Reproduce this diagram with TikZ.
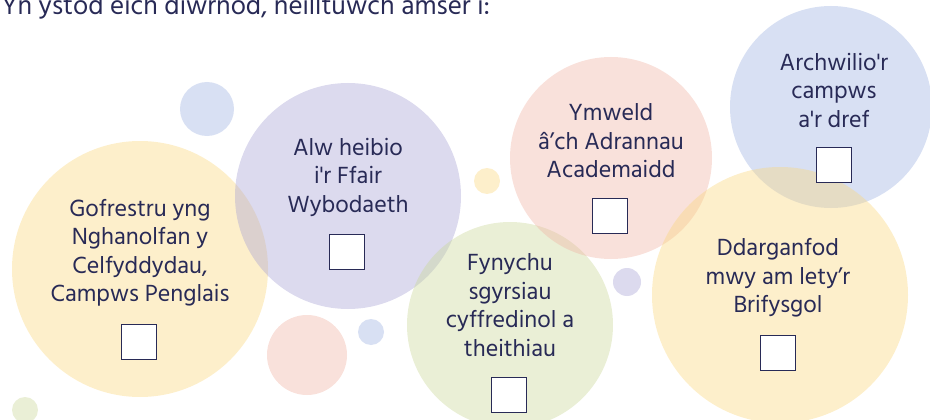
\documentclass[tikz,border=0pt]{standalone}
\usepackage{fontspec}
\setmainfont{Hind Madurai}
\usetikzlibrary{positioning}
\definecolor{ink}{RGB}{40,42,86}
\definecolor{sunyellow}{RGB}{250,215,125}
\definecolor{lilac}{RGB}{167,162,212}
\definecolor{sage}{RGB}{202,215,152}
\definecolor{blush}{RGB}{240,180,165}
\definecolor{skyblue}{RGB}{157,177,225}

\tikzset{
    bubble/.style={fill=#1, fill opacity=0.4},
    label text/.style={font=\fontsize{24}{28.5}\selectfont, text=ink, align=center},
    tickbox/.style={draw=ink, line width=1.7pt, fill=white, minimum size=35pt, inner sep=0pt}
}

\begin{document}
\begin{tikzpicture}[x=1pt, y=-1pt]
    \useasboundingbox (0,0) rectangle (930,420);

    % Small background bubbles
    \fill[bubble=skyblue] (207,109) circle[radius=27pt];
    \fill[bubble=sunyellow] (487,181) circle[radius=13pt];
    \fill[bubble=lilac] (627,282) circle[radius=14pt];
    \fill[bubble=blush] (307,355) circle[radius=40pt];
    \fill[bubble=skyblue] (371,332) circle[radius=13pt];
    \fill[bubble=sage] (25,410) circle[radius=13pt];

    % Large bubbles
    \fill[bubble=sunyellow] (140,269) circle[radius=128pt];
    \fill[bubble=lilac] (348,196) circle[radius=113pt];
    \fill[bubble=sage] (510,325) circle[radius=103pt];
    \fill[bubble=blush] (611,158) circle[radius=101pt];
    \fill[bubble=skyblue] (831,107) circle[radius=101pt];
    \fill[bubble=sunyellow] (780,295) circle[radius=128pt];

    % Title
    \node[font=\fontsize{27}{30}\selectfont, text=ink, anchor=base west] (title) at (-2,15)
        {Yn ystod eich diwrnod, neilltuwch amser i:};

    % Activities
    \node[label text] (gofrestru) at (140,253)
        {Gofrestru yng\\Nghanolfan y\\Celfyddydau,\\Campws Penglais};
    \node[tickbox] (gofrestrubox) at (139,342) {};

    \node[label text] (ffair) at (348,177)
        {Alw heibio\\i\textquotesingle r Ffair\\Wybodaeth};
    \node[tickbox] (ffairbox) at (347,252) {};

    \node[label text] (sgyrsiau) at (510,305)
        {Fynychu\\sgyrsiau\\cyffredinol a\\theithiau};
    \node[tickbox] (sgyrsiaubox) at (509,395) {};

    \node[label text] (adrannau) at (611,141)
        {Ymweld\\â’ch Adrannau\\Academaidd};
    \node[tickbox] (adrannaubox) at (610,216) {};

    \node[label text] (campws) at (834,90)
        {Archwilio\textquotesingle r\\campws\\a\textquotesingle r dref};
    \node[tickbox] (campwsbox) at (834,165) {};

    \node[label text] (llety) at (778,278)
        {Ddarganfod\\mwy am lety’r\\Brifysgol};
    \node[tickbox] (lletybox) at (778,353) {};
\end{tikzpicture}
\end{document}
